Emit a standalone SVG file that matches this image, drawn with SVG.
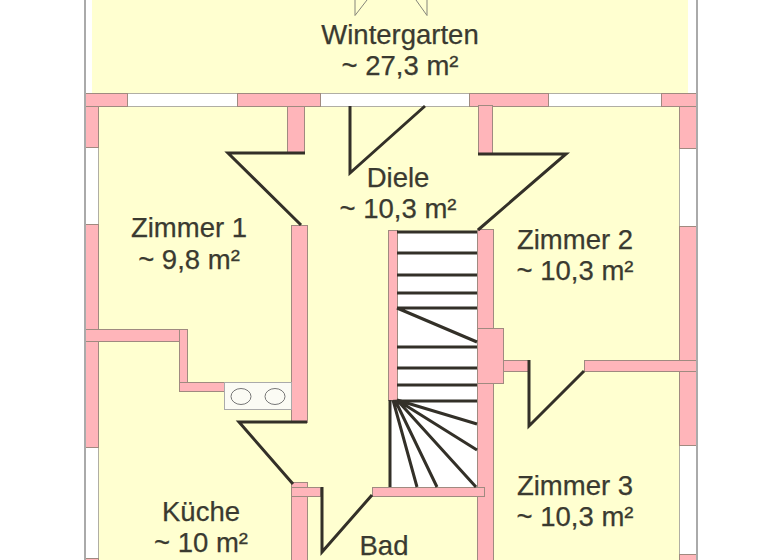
<svg xmlns="http://www.w3.org/2000/svg" width="768" height="560" viewBox="0 0 768 560">
<style>
.w{fill:#ffb5ba;stroke:#a08a80;stroke-width:1}
.win{fill:#fff;stroke:#b0aea4;stroke-width:1}
.b{fill:none;stroke:#333028;stroke-width:3;stroke-linejoin:miter}
.s{fill:none;stroke:#333028;stroke-width:3}
.t{fill:none;stroke:#85857a;stroke-width:1}
text{font-family:"Liberation Sans",Arial,sans-serif;font-size:27.5px;fill:#3a3a30;stroke:#3a3a30;stroke-width:.25;text-anchor:middle}
</style>
<rect width="768" height="560" fill="#fff"/>
<rect x="92" y="0" width="596" height="94" fill="#ffffd0"/>
<rect x="99" y="106" width="580" height="454" fill="#ffffd0"/>
<g id="walls">
<rect class="win" x="84.500" y="93.500" width="612" height="13"/>
<rect class="w" x="84.500" y="93.500" width="43" height="13"/>
<rect class="w" x="237.500" y="93.500" width="83" height="13"/>
<rect class="w" x="469.500" y="93.500" width="79" height="13"/>
<rect class="w" x="661.500" y="93.500" width="35" height="13"/>
<rect class="win" x="84.500" y="106.500" width="14" height="453"/>
<rect class="w" x="84.500" y="106.500" width="14" height="41"/>
<rect class="w" x="84.500" y="224.500" width="14" height="223"/>
<rect class="w" x="84.500" y="558.500" width="14" height="4"/>
<rect class="win" x="679.500" y="106.500" width="17" height="453"/>
<rect class="w" x="679.500" y="106.500" width="17" height="42"/>
<rect class="w" x="679.500" y="226.500" width="17" height="219"/>
<rect class="w" x="679.500" y="554.500" width="17" height="8"/>
<rect class="w" x="287.500" y="106.500" width="17" height="46"/>
<rect class="w" x="291.500" y="225.500" width="16" height="197"/>
<rect class="w" x="291.500" y="482.500" width="16" height="80"/>
<rect class="w" x="291.500" y="487.500" width="29" height="9"/>
<rect class="w" x="84.500" y="329.500" width="96" height="12"/>
<rect class="w" x="179.500" y="329.500" width="8" height="53"/>
<rect class="w" x="179.500" y="382.500" width="45" height="9"/>
<rect class="w" x="478.500" y="105.500" width="14" height="48"/>
<path fill="#fff" d="M397 231H477V487H390V400H397Z"/>
<rect class="w" x="388.500" y="230.500" width="9" height="170"/>
<rect class="w" x="477.500" y="229.500" width="16" height="333"/>
<rect class="w" x="372.500" y="487.500" width="112" height="9"/>
<rect class="w" x="477.500" y="328.500" width="26" height="55"/>
<rect class="w" x="503.500" y="360.500" width="25" height="11"/>
<rect class="w" x="584.500" y="360.500" width="112" height="11"/>
</g>
<path d="M85 0V560M697 0V560" stroke="#aaa" stroke-width="2" fill="none"/>
<g id="stove">
<rect x="224.500" y="382.500" width="67" height="27" fill="#fbfbf4" stroke="#aaa"/>
<ellipse cx="241" cy="396.500" rx="10" ry="8" fill="none" stroke="#777"/>
<ellipse cx="275" cy="396.500" rx="10" ry="8" fill="none" stroke="#777"/>
</g>
<g id="connectors">
<path class="b" d="M305 153H228L301 225"/>
<path class="b" d="M307 422H239L293 484"/>
<path class="b" d="M322 487V552L372 495"/>
<path class="b" d="M350 106V173L425 106"/>
<path class="b" d="M478 154H566L478 230"/>
<path class="b" d="M529 360V426L584 371"/>
<path class="s" d="M397 232H477M397 253H477M397 275H477M397 293H477M397 308H477M397 308L477 342M397 347H477M397 368H477M397 385H477M397 401H477"/>
<path class="s" d="M390 400V487M393 400L417 487M395 400L437 487M397 400L476 487M397 400L477 450M397 400L477 424"/>
<path class="t" d="M355 0V15.500L367 0M427 0V15.500L416 0"/>
</g>
<g id="wintergarten"><text x="400" y="44">Wintergarten</text><text x="400" y="75">~ 27,3 m²</text></g>
<g id="diele"><text x="398" y="187">Diele</text><text x="398" y="218">~ 10,3 m²</text></g>
<g id="zimmer1"><text x="189" y="237">Zimmer 1</text><text x="189" y="269">~ 9,8 m²</text></g>
<g id="zimmer2"><text x="575" y="249">Zimmer 2</text><text x="575" y="280">~ 10,3 m²</text></g>
<g id="zimmer3"><text x="575" y="495">Zimmer 3</text><text x="575" y="526">~ 10,3 m²</text></g>
<g id="kueche"><text x="201" y="521">Küche</text><text x="201" y="552">~ 10 m²</text></g>
<g id="bad"><text x="384" y="555">Bad</text></g>
</svg>
